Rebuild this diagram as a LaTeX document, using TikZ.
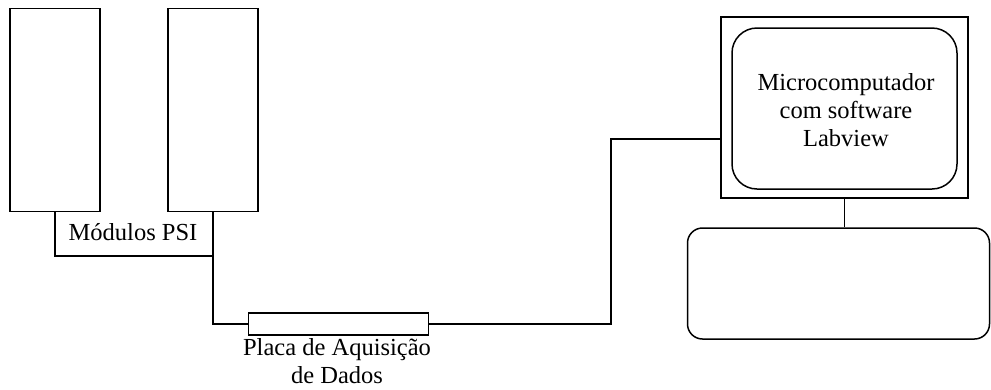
\documentclass[tikz,border=0pt]{standalone}
\usepackage{fontspec}
\newfontfamily\tnr{Liberation Serif}
\begin{document}
\begin{tikzpicture}[x=1pt,y=-1pt,line width=1.5pt,
  box/.style={draw,rectangle,inner sep=0pt},
  lbl/.style={font=\tnr\fontsize{24.5}{28}\selectfont,align=center,inner sep=0pt}]
\useasboundingbox (0,0) rectangle (991,389);
\node[box,minimum width=90,minimum height=203] (mod1) at (55,110) {};
\node[box,minimum width=90,minimum height=203] (mod2) at (213,110) {};
\coordinate (junc) at (213,256);
\draw (mod1.south) |- (junc) -- (mod2.south);
\node[lbl] (modlbl) at (133,232) {Módulos PSI};
\node[box,minimum width=180,minimum height=22] (placa) at (338.5,324) {};
\node[lbl,anchor=north] (placalbl) at (337,338) {Placa de Aquisição\\de Dados};
\draw (junc) |- (placa.west);
\node[box,minimum width=247,minimum height=181] (monitor) at (844.5,107.5) {};
\node[box,rounded corners=25,minimum width=225,minimum height=161] (screen) at (844.5,108.5) {};
\node[lbl] (screenlbl) at (846,110) {Microcomputador\\com software\\Labview};
\coordinate (bend) at (611,139);
\draw (placa.east) -| (bend) -- (monitor.west |- bend);
\node[box,rounded corners=15,minimum width=302,minimum height=111] (keyb) at (838.5,283.5) {};
\draw (monitor.south) -- (monitor.south |- keyb.north);
\end{tikzpicture}
\end{document}
